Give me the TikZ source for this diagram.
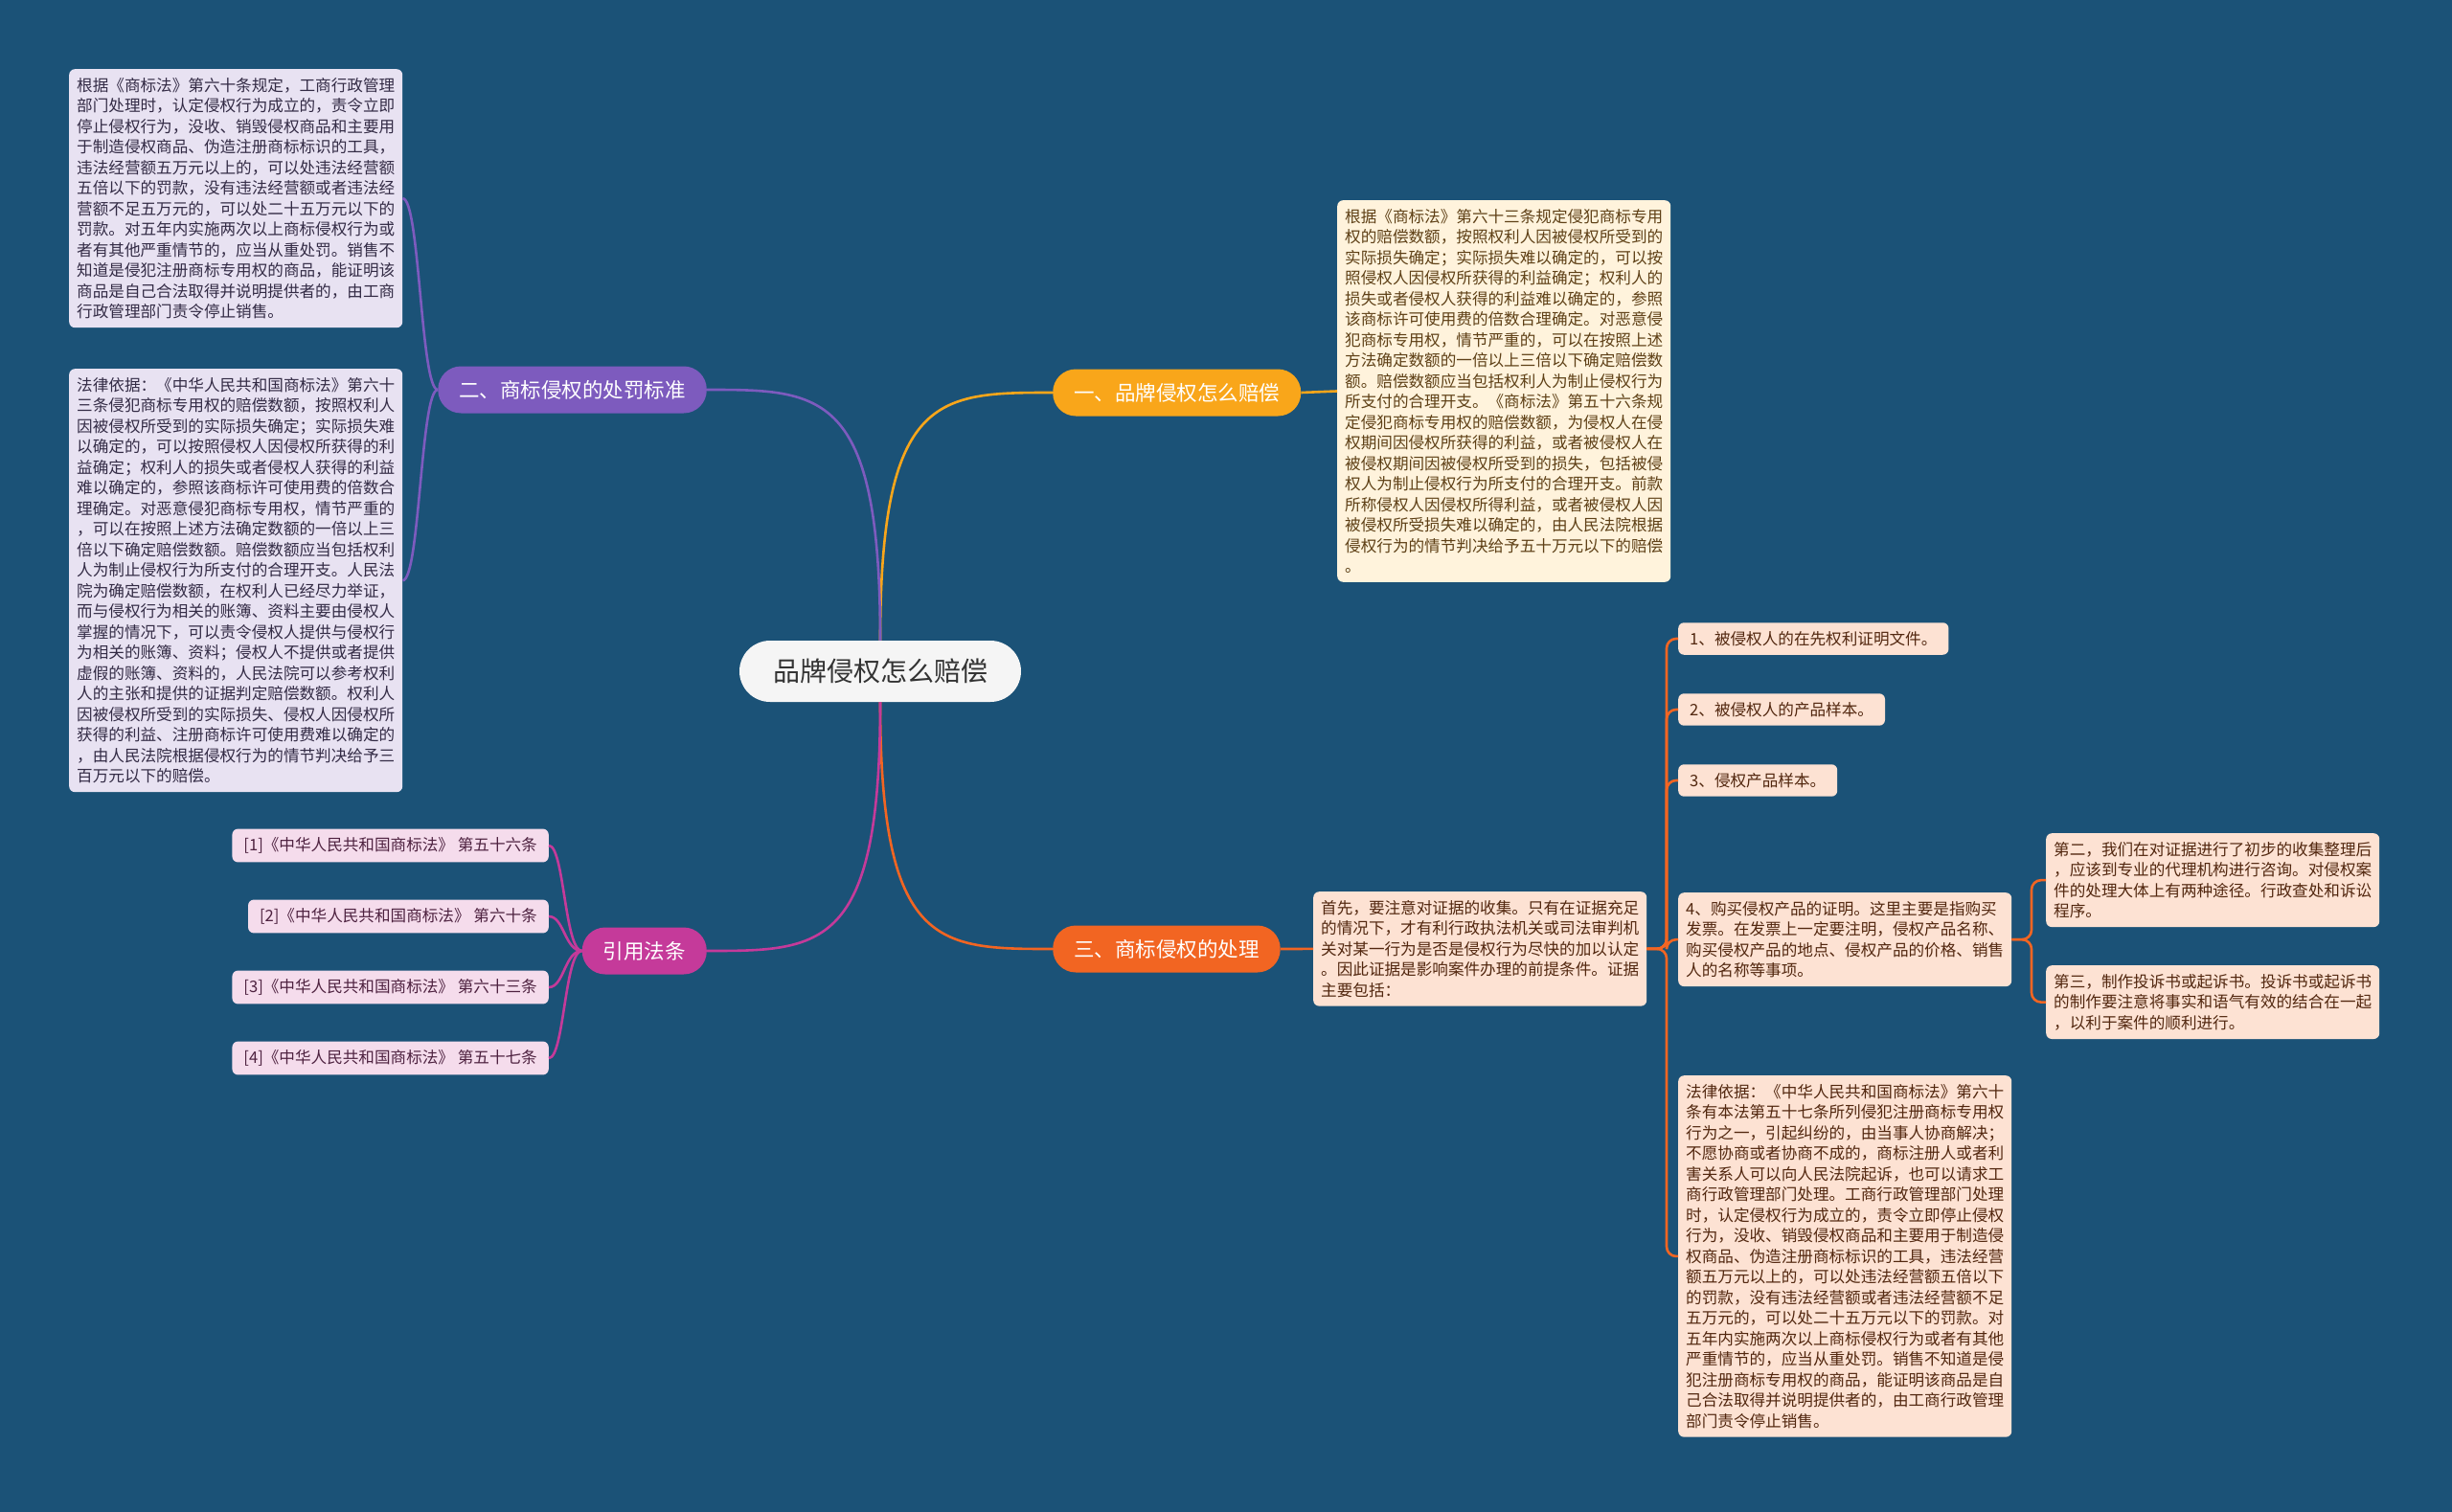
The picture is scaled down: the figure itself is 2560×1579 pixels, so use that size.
\documentclass[tikz,border=0pt]{standalone}
\usepackage{fontspec}
\setmainfont{Noto Sans CJK SC}
\definecolor{bg}{HTML}{1B5277}
\definecolor{cOne}{HTML}{F9A61A}
\definecolor{cTwo}{HTML}{7D5BBE}
\definecolor{cCite}{HTML}{C53A9A}
\definecolor{cThree}{HTML}{F26522}
\definecolor{fOne}{HTML}{FFF3DC}
\definecolor{tOne}{HTML}{5E4016}
\definecolor{fTwo}{HTML}{E8E2F2}
\definecolor{tTwo}{HTML}{332B45}
\definecolor{fCite}{HTML}{F5DCEC}
\definecolor{tCite}{HTML}{4E2240}
\definecolor{fThree}{HTML}{FDE2D3}
\definecolor{tThree}{HTML}{52270F}
\begin{document}
\begin{tikzpicture}[x=1pt,y=-1pt,
  every node/.style={font=\fontsize{16.6}{21.5}\selectfont},
  leaf/.style={rounded corners=6pt, inner xsep=8pt, inner ysep=9pt, align=left},
  oneleaf/.style={leaf, fill=fOne, text=tOne},
  twoleaf/.style={leaf, fill=fTwo, text=tTwo},
  citeleaf/.style={leaf, fill=fCite, text=tCite, inner xsep=12pt},
  threeleaf/.style={leaf, fill=fThree, text=tThree},
  shortleaf/.style={threeleaf, inner xsep=12pt},
  branch/.style={rounded corners=24pt, minimum height=49pt, inner xsep=22pt, inner ysep=0pt, text=white, font=\fontsize{21.5}{24}\selectfont},
  link/.style={line width=2.6pt},
]
\useasboundingbox (0,0) rectangle (2560,1579);
\fill[bg] (0,0) rectangle (2560,1579);

% center
\node[fill=white!96!black, rounded corners=32pt, minimum height=64pt, inner xsep=35pt, text=black!80, font=\fontsize{28}{32}\selectfont] (c) at (919,701) {品牌侵权怎么赔偿};

% branches
\node[branch, fill=cOne, anchor=west] (b1) at (1099,410) {一、品牌侵权怎么赔偿};
\node[branch, fill=cTwo, anchor=east] (b2) at (738,407) {二、商标侵权的处罚标准};
\node[branch, fill=cThree, anchor=west] (b3) at (1099,991) {三、商标侵权的处理};
\node[branch, fill=cCite, anchor=east] (b4) at (738,993) {引用法条};

% branch one child
\node[oneleaf, anchor=north west] (o1) at (1396,209) {根据《商标法》第六十三条规定侵犯商标专用\\权的赔偿数额，按照权利人因被侵权所受到的\\实际损失确定；实际损失难以确定的，可以按\\照侵权人因侵权所获得的利益确定；权利人的\\损失或者侵权人获得的利益难以确定的，参照\\该商标许可使用费的倍数合理确定。对恶意侵\\犯商标专用权，情节严重的，可以在按照上述\\方法确定数额的一倍以上三倍以下确定赔偿数\\额。赔偿数额应当包括权利人为制止侵权行为\\所支付的合理开支。《商标法》第五十六条规\\定侵犯商标专用权的赔偿数额，为侵权人在侵\\权期间因侵权所获得的利益，或者被侵权人在\\被侵权期间因被侵权所受到的损失，包括被侵\\权人为制止侵权行为所支付的合理开支。前款\\所称侵权人因侵权所得利益，或者被侵权人因\\被侵权所受损失难以确定的，由人民法院根据\\侵权行为的情节判决给予五十万元以下的赔偿\\。};

% branch two children
\node[twoleaf, anchor=north west] (p1) at (72,72) {根据《商标法》第六十条规定，工商行政管理\\部门处理时，认定侵权行为成立的，责令立即\\停止侵权行为，没收、销毁侵权商品和主要用\\于制造侵权商品、伪造注册商标标识的工具，\\违法经营额五万元以上的，可以处违法经营额\\五倍以下的罚款，没有违法经营额或者违法经\\营额不足五万元的，可以处二十五万元以下的\\罚款。对五年内实施两次以上商标侵权行为或\\者有其他严重情节的，应当从重处罚。销售不\\知道是侵犯注册商标专用权的商品，能证明该\\商品是自己合法取得并说明提供者的，由工商\\行政管理部门责令停止销售。};
\node[twoleaf, anchor=north west] (p2) at (72,385) {法律依据：《中华人民共和国商标法》第六十\\三条侵犯商标专用权的赔偿数额，按照权利人\\因被侵权所受到的实际损失确定；实际损失难\\以确定的，可以按照侵权人因侵权所获得的利\\益确定；权利人的损失或者侵权人获得的利益\\难以确定的，参照该商标许可使用费的倍数合\\理确定。对恶意侵犯商标专用权，情节严重的\\，可以在按照上述方法确定数额的一倍以上三\\倍以下确定赔偿数额。赔偿数额应当包括权利\\人为制止侵权行为所支付的合理开支。人民法\\院为确定赔偿数额，在权利人已经尽力举证，\\而与侵权行为相关的账簿、资料主要由侵权人\\掌握的情况下，可以责令侵权人提供与侵权行\\为相关的账簿、资料；侵权人不提供或者提供\\虚假的账簿、资料的，人民法院可以参考权利\\人的主张和提供的证据判定赔偿数额。权利人\\因被侵权所受到的实际损失、侵权人因侵权所\\获得的利益、注册商标许可使用费难以确定的\\，由人民法院根据侵权行为的情节判决给予三\\百万元以下的赔偿。};

% citations
\node[citeleaf, anchor=east] (r1) at (573,883) {[1]《中华人民共和国商标法》 第五十六条};
\node[citeleaf, anchor=east] (r2) at (573,957) {[2]《中华人民共和国商标法》 第六十条};
\node[citeleaf, anchor=east] (r3) at (573,1031) {[3]《中华人民共和国商标法》 第六十三条};
\node[citeleaf, anchor=east] (r4) at (573,1105) {[4]《中华人民共和国商标法》 第五十七条};

% branch three children
\node[threeleaf, anchor=north west] (s) at (1371,931) {首先，要注意对证据的收集。只有在证据充足\\的情况下，才有利行政执法机关或司法审判机\\关对某一行为是否是侵权行为尽快的加以认定\\。因此证据是影响案件办理的前提条件。证据\\主要包括：};
\node[shortleaf, anchor=west] (i1) at (1752,667) {1、被侵权人的在先权利证明文件。};
\node[shortleaf, anchor=west] (i2) at (1752,741) {2、被侵权人的产品样本。};
\node[shortleaf, anchor=west] (i3) at (1752,815) {3、侵权产品样本。};
\node[threeleaf, anchor=north west] (i4) at (1752,932) {4、购买侵权产品的证明。这里主要是指购买\\发票。在发票上一定要注明，侵权产品名称、\\购买侵权产品的地点、侵权产品的价格、销售\\人的名称等事项。};
\node[threeleaf, anchor=north west] (i5) at (1752,1123) {法律依据：《中华人民共和国商标法》第六十\\条有本法第五十七条所列侵犯注册商标专用权\\行为之一，引起纠纷的，由当事人协商解决；\\不愿协商或者协商不成的，商标注册人或者利\\害关系人可以向人民法院起诉，也可以请求工\\商行政管理部门处理。工商行政管理部门处理\\时，认定侵权行为成立的，责令立即停止侵权\\行为，没收、销毁侵权商品和主要用于制造侵\\权商品、伪造注册商标标识的工具，违法经营\\额五万元以上的，可以处违法经营额五倍以下\\的罚款，没有违法经营额或者违法经营额不足\\五万元的，可以处二十五万元以下的罚款。对\\五年内实施两次以上商标侵权行为或者有其他\\严重情节的，应当从重处罚。销售不知道是侵\\犯注册商标专用权的商品，能证明该商品是自\\己合法取得并说明提供者的，由工商行政管理\\部门责令停止销售。};
\node[threeleaf, anchor=north west] (k2) at (2136,870) {第二，我们在对证据进行了初步的收集整理后\\，应该到专业的代理机构进行咨询。对侵权案\\件的处理大体上有两种途径。行政查处和诉讼\\程序。};
\node[threeleaf, anchor=north west] (k3) at (2136,1008) {第三，制作投诉书或起诉书。投诉书或起诉书\\的制作要注意将事实和语气有效的结合在一起\\，以利于案件的顺利进行。};

% connectors: center to branches
\draw[link, cOne] (c.north) .. controls (919,410) and (980,410) .. (b1.west);
\draw[link, cTwo] (c.north) .. controls (919,407) and (858,407) .. (b2.east);
\draw[link, cThree] (c.south) .. controls (919,991) and (980,991) .. (b3.west);
\draw[link, cCite] (c.south) .. controls (919,993) and (858,993) .. (b4.east);

% branch one
\draw[link, cOne] (b1.east) -- (o1.west);

% branch two
\draw[link, cTwo] (b2.west) .. controls +(-18,0) and +(18,0) .. (p1.east);
\draw[link, cTwo] (b2.west) .. controls +(-18,0) and +(18,0) .. (p2.east);

% citations
\foreach \r in {r1,r2,r3,r4}
  \draw[link, cCite] (b4.west) .. controls +(-18,0) and +(16,0) .. (\r.east);

% branch three
\draw[link, cThree] (b3.east) -- (s.west);
\coordinate (t3) at (1740,0);
\foreach \i in {i1,i2,i3,i4,i5}
  \draw[link, cThree, rounded corners=10pt] (s.east) -- (s.east -| t3) |- (\i.west);
\coordinate (t4) at (2121,0);
\foreach \k in {k2,k3}
  \draw[link, cThree, rounded corners=10pt] (i4.east) -- (i4.east -| t4) |- (\k.west);
\end{tikzpicture}
\end{document}
